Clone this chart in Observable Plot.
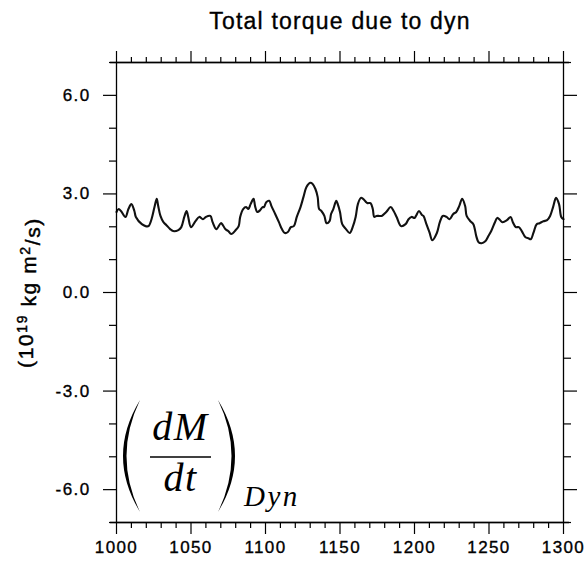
<!DOCTYPE html>
<html>
<head>
<meta charset="utf-8">
<script src="https://cdn.jsdelivr.net/npm/d3@7"></script>
<script src="https://cdn.jsdelivr.net/npm/@observablehq/plot@0.6"></script>
<style>
  html, body { margin: 0; padding: 0; background: #fff; }
  #chart { width: 588px; height: 574px; }
</style>
</head>
<body>
<div id="chart"></div>
<script>
// ---- data ----
const title = "Total torque due to dyn";
const yLabel = "(10¹⁹ kg m²/s)";
const xMajor = [1000, 1050, 1100, 1150, 1200, 1250, 1300];
const xMinor = d3.range(1000, 1301, 10).filter(d => d % 50 !== 0);
const yMajor = [-6, -3, 0, 3, 6];
const yMinor = [-7, -5, -4, -2, -1, 1, 2, 4, 5, 7];

const years = [
  1000, 1001.5, 1003, 1006, 1008, 1010, 1012, 1013, 1017, 1019.5, 1021.5, 1023.5, 1025.5, 1027, 1028, 1029.5,
  1031.5, 1033.5, 1036, 1038, 1041.5, 1043.5, 1045.5, 1047, 1048, 1050, 1053, 1055.5, 1058, 1060, 1063, 1064.5,
  1067, 1070, 1071, 1073, 1075, 1077, 1080, 1082, 1083, 1085, 1087, 1088.5, 1090, 1092, 1093, 1094.5,
  1096.5, 1098, 1099, 1100.5, 1102.5, 1104, 1106.5, 1109, 1111, 1113, 1115, 1117, 1119, 1121, 1123.5, 1125.5,
  1127.5, 1130, 1131.5, 1133.5, 1135, 1136, 1137.5, 1139.5, 1141, 1143, 1144, 1145.5, 1147.5, 1148.5, 1150, 1151.5,
  1154, 1156.5, 1158.5, 1160.5, 1162, 1164, 1165.5, 1167.5, 1168.5, 1170.5, 1172, 1173, 1174.5, 1176.5, 1178, 1181,
  1184, 1186, 1188, 1191, 1194, 1196, 1198, 1200, 1201, 1203, 1205, 1206, 1208, 1210, 1212, 1215,
  1217, 1219, 1221.5, 1223.5, 1226, 1228, 1230, 1232, 1234, 1235, 1237.5, 1239.5, 1241.5, 1243, 1245, 1247.5,
  1249.5, 1251.5, 1254, 1255.5, 1257.5, 1259, 1262, 1264.5, 1266, 1268, 1270, 1272, 1274.5, 1276.5, 1278, 1280,
  1282, 1284, 1286.5, 1289, 1291, 1293, 1295, 1297, 1298.5, 1300
];
const values = [
  2.45, 2.54, 2.48, 2.30, 2.54, 2.69, 2.48, 2.30, 2.08, 2.02, 2.02, 2.23, 2.60, 2.85, 2.63, 2.33,
  2.14, 2.05, 1.93, 1.87, 1.90, 1.99, 2.30, 2.48, 2.33, 1.99, 2.17, 2.30, 2.23, 2.30, 2.33, 2.14,
  1.93, 2.11, 2.08, 1.93, 1.87, 1.78, 1.90, 2.02, 2.30, 2.54, 2.60, 2.54, 2.69, 2.85, 2.63, 2.45,
  2.51, 2.60, 2.60, 2.75, 2.79, 2.63, 2.39, 2.14, 1.93, 1.81, 1.84, 1.99, 2.02, 2.30, 2.60, 2.91,
  3.21, 3.34, 3.31, 3.15, 2.91, 2.54, 2.48, 2.33, 2.11, 2.17, 2.39, 2.54, 2.79, 2.69, 2.45, 2.08,
  1.93, 1.81, 1.99, 2.30, 2.69, 2.88, 2.85, 2.75, 2.72, 2.72, 2.54, 2.30, 2.33, 2.33, 2.33, 2.45,
  2.60, 2.48, 2.30, 2.02, 2.08, 2.23, 2.30, 2.27, 2.33, 2.48, 2.36, 2.33, 2.08, 1.84, 1.59, 1.81,
  2.14, 2.33, 2.30, 2.23, 2.39, 2.45, 2.63, 2.85, 2.63, 2.33, 2.17, 2.08, 1.71, 1.53, 1.50, 1.56,
  1.71, 1.87, 2.14, 2.27, 2.20, 2.14, 2.20, 2.30, 2.14, 1.99, 1.99, 1.87, 1.68, 1.65, 1.62, 1.84,
  2.08, 2.11, 2.17, 2.20, 2.33, 2.60, 2.88, 2.69, 2.30, 2.23
];

const data = years.map((x, i) => ({year: x, value: values[i]}));
const fmtY = d => d.toFixed(1);
const blank = () => "";

const plot = Plot.plot({
  width: 588,
  height: 574,
  marginLeft: 116,
  marginRight: 25,
  marginTop: 62,
  marginBottom: 52,
  x: {domain: [1000, 1300], label: null},
  y: {domain: [-7, 7], label: null},
  style: {fontFamily: "'Liberation Sans', Arial, Helvetica, sans-serif", fontSize: "17px", color: "#000", background: "#fff", overflow: "visible"},
  marks: [
    Plot.line(data, {x: "year", y: "value", stroke: "#111", strokeWidth: 2.1, curve: "catmull-rom"}),
    Plot.ruleY([-7, 7], {insetLeft: -6, insetRight: -6, stroke: "#000", strokeWidth: 1.3}),
    Plot.frame({stroke: "#000", strokeWidth: 1.3}),
    // bottom axis
    Plot.axisX({anchor: "bottom", ticks: xMajor, tickSize: 12, tickPadding: 6, tickFormat: d => String(d), label: null, strokeWidth: 1.2}),
    Plot.axisX({anchor: "bottom", ticks: xMinor, tickSize: 6, tickFormat: blank, label: null, strokeWidth: 1.2}),
    // top axis
    Plot.axisX({anchor: "top", ticks: xMajor, tickSize: 12, tickFormat: blank, label: null, strokeWidth: 1.2}),
    Plot.axisX({anchor: "top", ticks: xMinor, tickSize: 6, tickFormat: blank, label: null, strokeWidth: 1.2}),
    // left axis
    Plot.axisY({anchor: "left", ticks: yMajor, tickSize: 13, tickPadding: 13, tickFormat: fmtY, label: null, strokeWidth: 1.2}),
    Plot.axisY({anchor: "left", ticks: yMinor, tickSize: 7, tickFormat: blank, label: null, strokeWidth: 1.2}),
    // right axis
    Plot.axisY({anchor: "right", ticks: yMajor, tickSize: 13, tickFormat: blank, label: null, strokeWidth: 1.2}),
    Plot.axisY({anchor: "right", ticks: yMinor, tickSize: 7, tickFormat: blank, label: null, strokeWidth: 1.2}),
    // title
    Plot.text([title], {text: d => d, frameAnchor: "top", textAnchor: "middle", dy: -34, lineAnchor: "bottom", fontSize: 23, fill: "#000"}),
    // y label
    Plot.text([yLabel], {text: d => d, frameAnchor: "left", textAnchor: "middle", dx: -90, rotate: -90, lineAnchor: "middle", fontSize: 21, fill: "#000"})
  ]
});

document.getElementById("chart").appendChild(plot);

const svg = d3.select(plot);
svg.selectAll("text").style("letter-spacing", "1.4px").style("stroke", "#000").style("stroke-width", "0.35px");

// rebuild y label with real superscripts
svg.selectAll("text").filter(function() { return this.textContent === yLabel; }).each(function() {
  const t = d3.select(this);
  t.text(null).style("letter-spacing", "1.6px").style("stroke-width", "0.45px");
  t.append("tspan").text("(10");
  t.append("tspan").attr("dy", "-0.45em").attr("font-size", "14px").text("19");
  t.append("tspan").attr("dy", "0.45em").text(" kg m");
  t.append("tspan").attr("dy", "-0.45em").attr("font-size", "14px").text("2");
  t.append("tspan").attr("dy", "0.45em").text("/s)");
});
svg.selectAll("text").filter(function() { return this.textContent === title; }).style("letter-spacing", "1.2px");

// math annotation (dM/dt)_Dyn anchored to the lower-left corner of the frame
const sx = plot.scale("x"), sy = plot.scale("y");
const ox = sx.apply(1000), oy = sy.apply(-7);
const g = svg.append("g").attr("fill", "#000");
const paren = (x, top, bot, cOuter, cInner) =>
  `M${x},${top} Q${cOuter},${(top + bot) / 2} ${x},${bot} Q${cInner},${(top + bot) / 2} ${x},${top} Z`;
g.append("path").attr("d", paren(ox + 24, oy - 122, oy - 10, ox - 10, ox - 3));
g.append("path").attr("d", paren(ox + 102, oy - 122, oy - 10, ox + 136, ox + 129));
g.append("line").attr("x1", ox + 34).attr("x2", ox + 95).attr("y1", oy - 65).attr("y2", oy - 65)
  .attr("stroke", "#000").attr("stroke-width", 1.6);
const mathFont = "'Liberation Serif', 'Times New Roman', serif";
g.append("text").attr("x", ox + 64.5).attr("y", oy - 82).attr("text-anchor", "middle")
  .attr("font-family", mathFont).attr("font-style", "italic").attr("font-size", 40).style("letter-spacing", "1.5px").text("dM");
g.append("text").attr("x", ox + 64.5).attr("y", oy - 31).attr("text-anchor", "middle")
  .attr("font-family", mathFont).attr("font-style", "italic").attr("font-size", 40).style("letter-spacing", "1.5px").text("dt");
g.append("text").attr("x", ox + 128).attr("y", oy - 16).attr("text-anchor", "start")
  .attr("font-family", mathFont).attr("font-style", "italic").attr("font-size", 29).style("letter-spacing", "2.5px").text("Dyn");
</script>
</body>
</html>
